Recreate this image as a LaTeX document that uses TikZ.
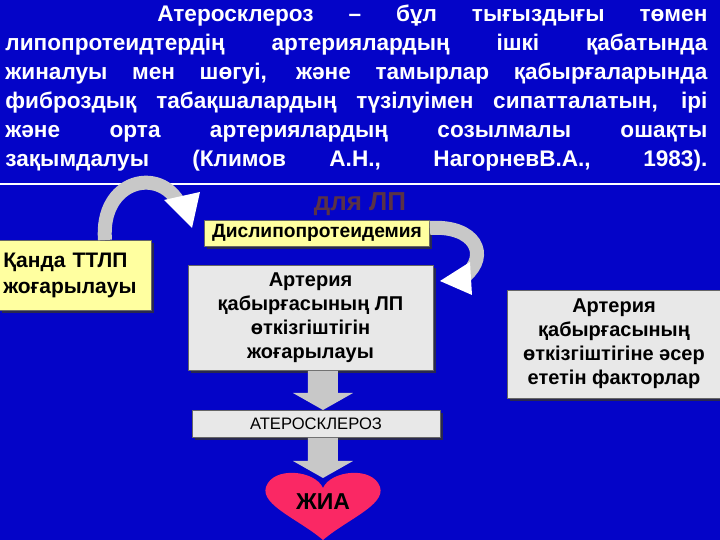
\documentclass[tikz,border=0pt]{standalone}
\usepackage{fontspec}
\setmainfont{Liberation Sans}
\usetikzlibrary{shadows}
\newcommand\myNoFill{\parfillskip=0pt\relax}
\definecolor{bg}{RGB}{4,4,200}
\definecolor{ylw}{RGB}{255,255,160}
\definecolor{marble}{RGB}{232,232,232}
\definecolor{heartc}{RGB}{250,40,100}
\definecolor{arrowg}{RGB}{200,200,200}
\definecolor{faded}{RGB}{90,50,70}
\tikzset{
  box/.style={draw=black!60, line width=0.4pt, inner sep=0pt, font=\bfseries\fontsize{10}{12}\selectfont, align=center, text=black, drop shadow={shadow xshift=1.5pt, shadow yshift=-1.5pt, fill=black!80, opacity=0.8}},
  ybox/.style={box, fill=ylw},
  mbox/.style={box, fill=marble},
  bigarrow/.style={fill=arrowg, draw=none},
  curv/.style={draw=arrowg, line width=7pt},
  tip/.style={fill=white, draw=none}
}
\begin{document}
\begin{tikzpicture}[x=0.5pt,y=-0.5pt]
\fill[bg] (0,0) rectangle (720,540);
\useasboundingbox (0,0) rectangle (720,540);
\draw[white, line width=0.6pt] (0,184) -- (720,184);
\node[anchor=north west, text=white, font=\bfseries\fontsize{11.3}{14.5}\selectfont\myNoFill, text width=351pt, align=justify, inner sep=0pt] (para) at (5,5)
{\hspace*{76pt}Атеросклероз – бұл тығыздығы төмен\linebreak липопротеидтердің артериялардың ішкі қабатында\linebreak жиналуы мен шөгуі, және тамырлар қабырғаларында\linebreak фиброздық табақшалардың түзілуімен сипатталатын, ірі\linebreak және орта артериялардың созылмалы ошақты\linebreak зақымдалуы (Климов А.Н., НагорневВ.А., 1983).};
\node[text=faded, font=\bfseries\fontsize{13}{13}\selectfont] (dla) at (360,204) {для ЛП};
\node[ybox, minimum width=112.5pt, minimum height=13pt, font=\bfseries\fontsize{9.6}{12}\selectfont] (dys) at (317,233) {Дислипопротеидемия};
\node[ybox, minimum width=76pt, minimum height=35pt, align=left, anchor=north west, text width=72pt, font=\bfseries\fontsize{10.5}{13}\selectfont] (ttlp) at (-1,240) {Қанда ТТЛП\\жоғарылауы};
\node[mbox, minimum width=122.5pt, minimum height=52.5pt] (art) at (310.5,317.5) {Артерия\\қабырғасының ЛП\\өткізгіштігін\\жоғарылауы};
\node[mbox, minimum width=107pt, minimum height=54pt] (fac) at (614,344) {Артерия\\қабырғасының\\өткізгіштігіне әсер\\ететін факторлар};
\node[mbox, minimum width=124pt, minimum height=13.5pt, font=\fontsize{8.3}{9}\selectfont] (ath) at (316,423.5) {АТЕРОСКЛЕРОЗ};
% big arrows
\fill[bigarrow] (308,371) -- (338,371) -- (338,393) -- (353,393) -- (323,410) -- (293,393) -- (308,393) -- cycle;
\fill[bigarrow] (308,438) -- (338,438) -- (338,461) -- (353,461) -- (323,478) -- (293,461) -- (308,461) -- cycle;
% heart
\fill[heartc] (323,540) .. controls (300,520) and (260,505) .. (266,487) .. controls (273,466) and (315,470) .. (323,488) .. controls (331,470) and (373,466) .. (380,487) .. controls (386,505) and (346,520) .. (323,540) -- cycle;
\node[font=\bfseries\fontsize{11.5}{12}\selectfont] (jia) at (323,502) {ЖИА};
% curved arrow left
\coordinate (c1) at (105,240);
\coordinate (c2) at (180,205);
\draw[curv] (c1) .. controls (100,180) and (160,165) .. (c2);
\fill[tip] (164,200) -- (200,192) -- (192,228) -- cycle;
% curved arrow right
\coordinate (d1) at (430,228);
\coordinate (d2) at (465,276);
\draw[curv] (d1) .. controls (475,225) and (490,255) .. (d2);
\fill[tip] (470,262) -- (440,281) -- (472,295) -- cycle;
\end{tikzpicture}
\end{document}
